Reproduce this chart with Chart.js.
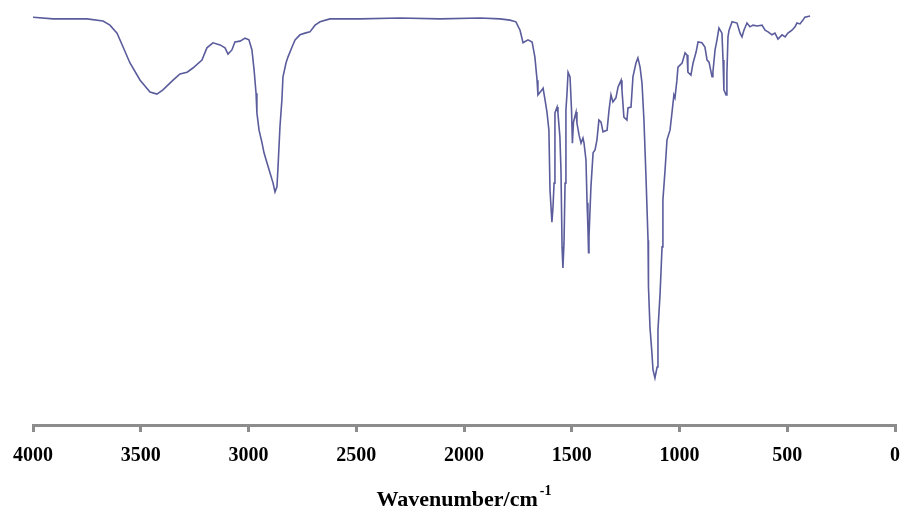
<!DOCTYPE html>
<html>

<head>
  <meta charset="utf-8">
  <title>IR Spectrum</title>
  <style>
    body { margin: 0; background: #fff; }
    #wrap { width: 901px; height: 512px; }
  </style>
</head>

<body>
  <div id="wrap">
    <canvas id="spectrum"></canvas>
  </div>

  <script src="https://cdn.jsdelivr.net/npm/chart.js"></script>

  <script>
    // Wavenumber (cm-1) and transmittance (%)
    const wavenumbers = [
      4000, 3907, 3749, 3675, 3643, 3610, 3582, 3550, 3503, 3457, 3425, 3397, 3350, 3318, 3285, 3258,
      3216, 3193, 3165, 3132, 3109, 3095, 3077, 3063, 3039, 3016, 2998, 2984, 2974, 2965, 2961, 2951,
      2937, 2928, 2914, 2900, 2886, 2877, 2868, 2863, 2854, 2845, 2840, 2826, 2817, 2798, 2784, 2761,
      2738, 2715, 2691, 2668, 2622, 2483, 2297, 2111, 1926, 1833, 1787, 1759, 1740, 1726, 1703, 1684,
      1671, 1661, 1657, 1638, 1633, 1624, 1615, 1606, 1601, 1592, 1587, 1582, 1578, 1568, 1564, 1555,
      1550, 1545, 1541, 1536, 1531, 1527, 1522, 1517, 1508, 1501, 1497, 1492, 1480, 1476, 1466, 1457,
      1448, 1443, 1434, 1429, 1425, 1422, 1420, 1411, 1401, 1392, 1383, 1374, 1364, 1355, 1336, 1327,
      1318, 1309, 1295, 1285, 1271, 1267, 1258, 1244, 1239, 1225, 1216, 1202, 1193, 1183, 1174, 1165,
      1155, 1146, 1144, 1137, 1128, 1123, 1114, 1104, 1100, 1090, 1081, 1077, 1067, 1058, 1044, 1035,
      1026, 1021, 1012, 1007, 988, 974, 965, 961, 947, 937, 923, 914, 896, 882, 872, 863,
      849, 845, 835, 826, 817, 803, 798, 794, 784, 780, 775, 770, 756, 733, 719, 710,
      701, 687, 673, 659, 640, 617, 603, 589, 571, 557, 543, 524, 510, 497, 478, 464,
      455, 441, 427, 418, 394
    ];
    const transmittance = [
      97.1, 96.7, 96.7, 96.2, 95.2, 93.3, 90.0, 86.2, 82.1, 79.3, 78.8, 79.8, 82.1, 83.6, 84.0, 85.0,
      86.9, 89.8, 91.0, 90.5, 89.8, 88.3, 89.3, 91.2, 91.4, 92.1, 91.7, 89.3, 84.5, 79.0, 74.3, 70.2,
      67.1, 64.8, 62.4, 60.0, 57.6, 55.5, 56.7, 61.4, 71.0, 77.4, 82.9, 86.2, 87.6, 90.0, 91.7, 92.9,
      93.3, 93.6, 95.2, 96.0, 96.7, 96.7, 96.9, 96.7, 96.9, 96.7, 96.4, 96.0, 94.0, 91.0, 91.7, 91.2,
      87.6, 82.1, 78.6, 79.8, 80.2, 77.4, 74.5, 70.2, 56.0, 48.3, 51.9, 57.6, 74.3, 75.7, 74.3, 68.6,
      60.7, 42.4, 37.4, 43.3, 57.6, 75.0, 79.0, 84.0, 82.9, 75.0, 67.1, 72.1, 74.5, 71.9, 69.0, 67.1,
      68.3, 67.1, 63.1, 52.9, 47.1, 41.0, 44.8, 56.7, 64.8, 65.5, 67.9, 72.6, 72.1, 69.8, 70.2, 75.0,
      78.6, 76.9, 77.9, 80.5, 82.1, 79.8, 73.3, 72.6, 75.5, 75.7, 82.9, 86.2, 87.4, 85.2, 81.4, 72.6,
      58.3, 44.0, 32.9, 23.3, 17.1, 13.1, 11.2, 13.8, 22.6, 31.4, 42.4, 53.6, 60.7, 67.9, 70.2, 74.3,
      78.6, 77.9, 82.1, 85.2, 86.2, 88.6, 88.1, 84.0, 83.3, 86.2, 88.8, 91.2, 91.0, 90.0, 86.9, 86.4,
      82.9, 84.0, 89.3, 91.7, 94.5, 93.3, 86.9, 79.8, 78.6, 83.8, 92.4, 94.0, 96.0, 95.7, 93.3, 92.4,
      94.0, 95.7, 94.8, 95.2, 95.0, 95.2, 94.0, 93.6, 92.9, 93.3, 91.9, 92.9, 92.4, 93.3, 94.0, 94.8,
      95.7, 95.5, 96.4, 97.1, 97.4
    ];
    const xTicks = [0, 500, 1000, 1500, 2000, 2500, 3000, 3500, 4000];
    const axisTitle = 'Wavenumber/cm';
    const axisTitleSup = '-1';

    const serif = "'Times New Roman', 'Liberation Serif', serif";
    const axisGray = '#8c8c8c';

    // axis title with a superscript exponent, drawn under the tick labels
    const titlePlugin = {
      id: 'axisTitle',
      afterDraw(chart) {
        const ctx = chart.ctx;
        const area = chart.chartArea;
        ctx.save();
        ctx.fillStyle = '#000';
        ctx.textBaseline = 'alphabetic';
        ctx.textAlign = 'left';
        ctx.font = 'bold 22px ' + serif;
        const mainW = ctx.measureText(axisTitle).width;
        ctx.font = 'bold 14px ' + serif;
        const supW = ctx.measureText(axisTitleSup).width;
        const x0 = (area.left + area.right) / 2 - (mainW + supW + 2) / 2;
        ctx.font = 'bold 22px ' + serif;
        ctx.fillText(axisTitle, x0, 506);
        ctx.font = 'bold 14px ' + serif;
        ctx.fillText(axisTitleSup, x0 + mainW + 2, 495);
        ctx.restore();
      }
    };

    const ctx = document.getElementById('spectrum').getContext('2d');
    new Chart(ctx, {
      type: 'line',
      data: {
        datasets: [{
          data: wavenumbers.map((w, i) => ({ x: w, y: transmittance[i] })),
          borderColor: '#5a5c9c',
          borderWidth: 1.6,
          pointRadius: 0,
          tension: 0,
          fill: false
        }]
      },
      options: {
        responsive: true,
        maintainAspectRatio: false,
        animation: false,
        layout: { padding: { top: 5, left: 33, right: 6, bottom: 0 } },
        plugins: {
          legend: { display: false },
          tooltip: { enabled: false }
        },
        scales: {
          x: {
            type: 'linear',
            reverse: true,
            min: 0,
            max: 4000,
            afterBuildTicks: (scale) => {
              scale.ticks = xTicks.map(v => ({ value: v }));
            },
            afterFit: (scale) => {
              // labels fit inside the layout padding, keep the plot edges fixed
              scale.height = 87;
              scale.paddingLeft = 0;
              scale.paddingRight = 0;
            },
            border: { display: true, color: axisGray, width: 3 },
            grid: {
              drawOnChartArea: false,
              drawTicks: true,
              tickLength: 7,
              color: axisGray,
              lineWidth: 3
            },
            ticks: {
              padding: 12,
              color: '#000',
              maxRotation: 0,
              callback: (v) => String(v),
              font: { family: serif, size: 20, weight: 'bold' }
            }
          },
          y: {
            display: false,
            min: 0,
            max: 100
          }
        }
      },
      plugins: [titlePlugin]
    });
  </script>
</body>

</html>
